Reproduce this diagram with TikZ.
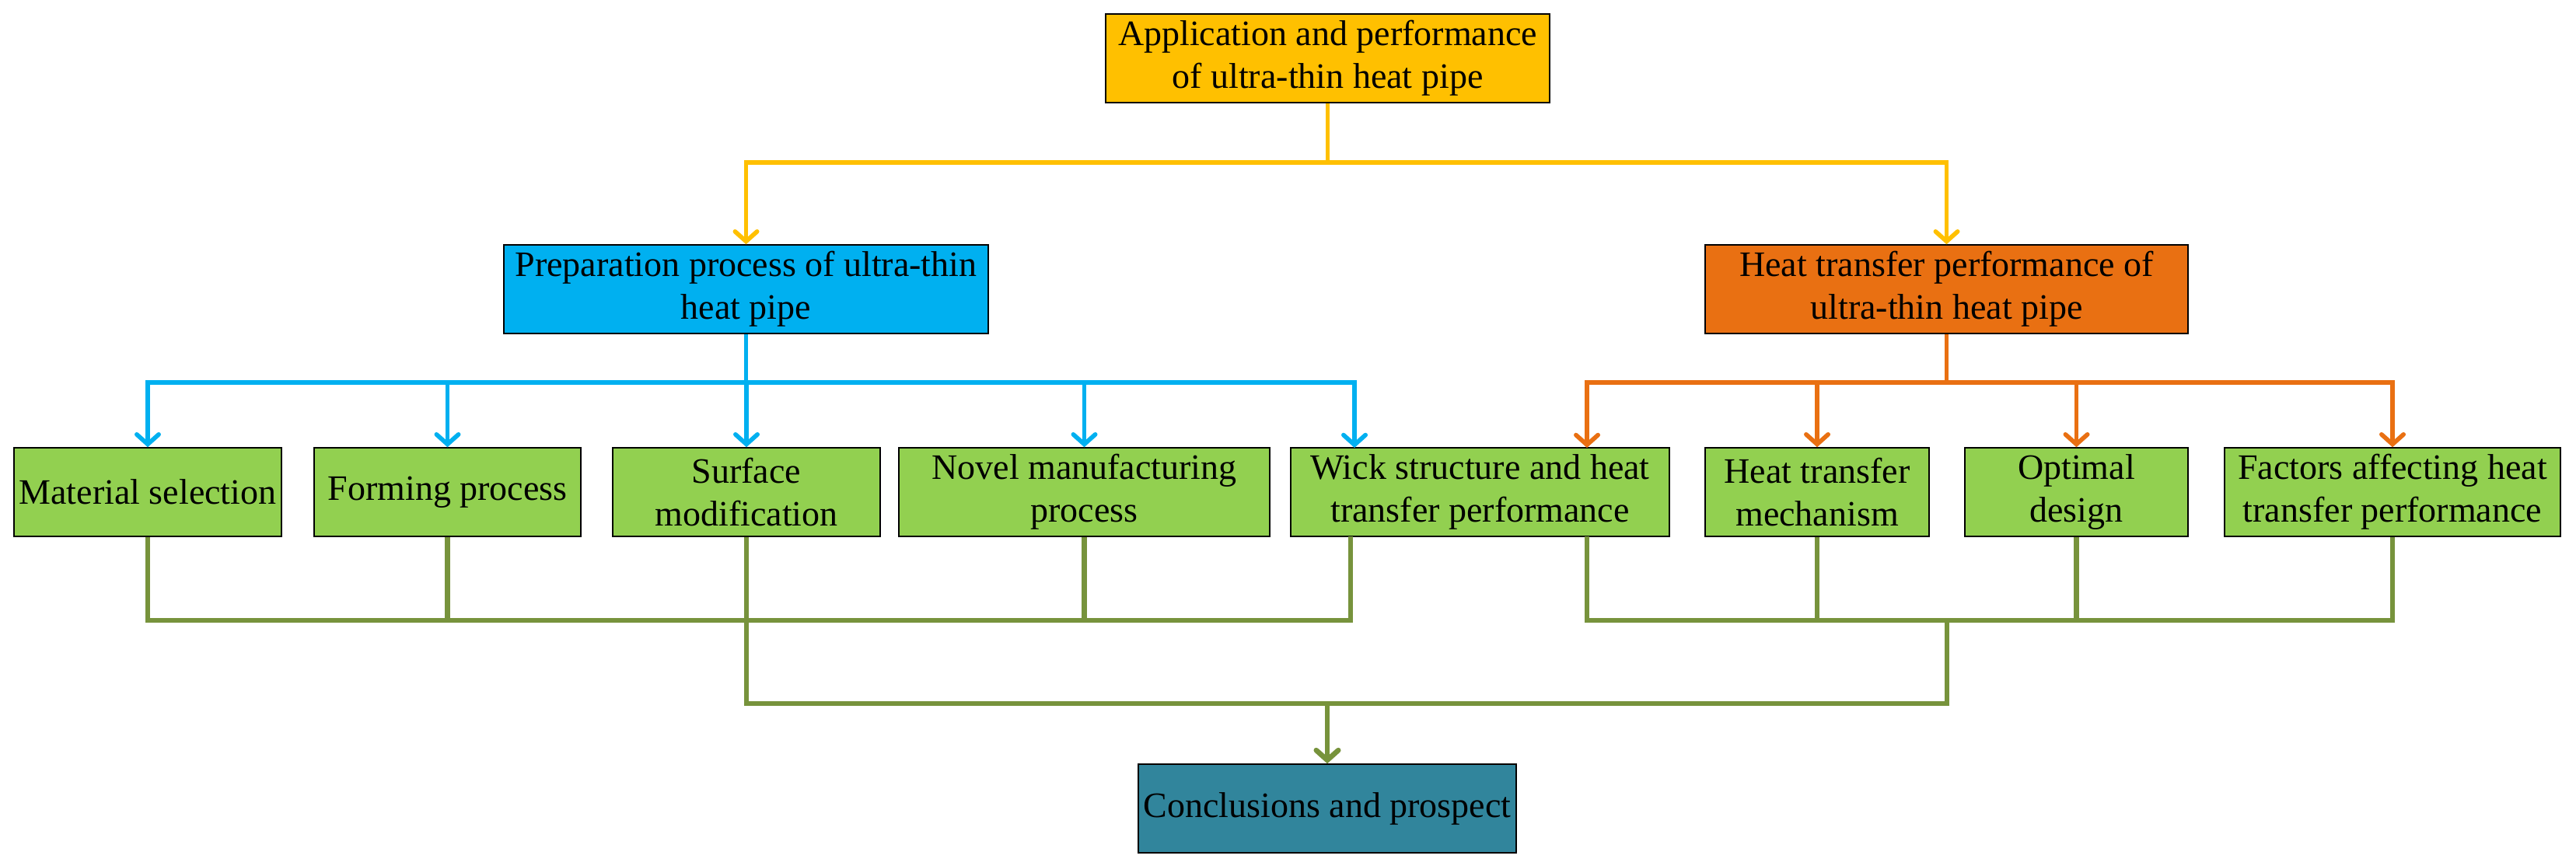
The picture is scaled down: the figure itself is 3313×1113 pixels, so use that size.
\documentclass[tikz,border=0pt]{standalone}
\usepackage{fontspec}
\setmainfont{Liberation Serif}
\usetikzlibrary{arrows.meta}
\definecolor{cyel}{HTML}{FFC000}
\definecolor{cblu}{HTML}{00B0F0}
\definecolor{corg}{HTML}{E97012}
\definecolor{cgrn}{HTML}{92D050}
\definecolor{colv}{HTML}{77933C}
\definecolor{cteal}{HTML}{31859C}
\begin{document}
\begin{tikzpicture}[x=0.3pt,y=-0.3pt,
  box/.style={draw=black,line width=0.45pt,inner sep=0pt,align=center,
    font=\fontsize{13.8pt}{16.5pt}\selectfont},
  sz/.style 2 args={minimum width=#1*0.3pt,minimum height=#2*0.3pt},
  ln/.style={line width=1.7pt},
  bus/.style={line width=1.7pt,line cap=rect},
  gln/.style={line width=2pt},
  gbus/.style={line width=2pt,line cap=rect},
  arr/.style={-{Straight Barb[length=3.8pt,width=8.5pt,line cap=round]}}
]
\useasboundingbox (0,0) rectangle (3313,1113);

% nodes
\node[box,fill=cyel,sz={571}{114}] (top) at (1707.5,75) {Application and performance\\of ultra-thin heat pipe};
\node[box,fill=cblu,sz={623}{114}] (prep) at (959.5,372) {Preparation process of ultra-thin\\heat pipe};
\node[box,fill=corg,sz={621}{114}] (heat) at (2503.5,372) {Heat transfer performance of\\ultra-thin heat pipe};

\node[box,fill=cgrn,sz={344}{114}] (g1) at (190,633) {Material selection};
\node[box,fill=cgrn,sz={343}{114}] (g2) at (575.5,633) {Forming process};
\node[box,fill=cgrn,sz={344}{114}] (g3) at (960,633) {Surface\\modification};
\node[box,fill=cgrn,sz={477}{114}] (g4) at (1394.5,633) {Novel manufacturing\\process};
\node[box,fill=cgrn,sz={487}{114}] (g5) at (1903.5,633) {Wick structure and heat\\transfer performance};
\node[box,fill=cgrn,sz={288}{114}] (g6) at (2337,633) {Heat transfer\\mechanism};
\node[box,fill=cgrn,sz={287}{114}] (g7) at (2670.5,633) {Optimal\\design};
\node[box,fill=cgrn,sz={432}{114}] (g8) at (3077,633) {Factors affecting heat\\transfer performance};

\node[box,fill=cteal,sz={486}{114}] (concl) at (1707,1040) {Conclusions and prospect};

% helper coordinates
\coordinate (ybus) at (1707.5,209);
\coordinate (bbus) at (959.5,492);
\coordinate (obus) at (2503.5,492);
\coordinate (g5in) at (1742,576);
\coordinate (g5inr) at (2041,576);
\coordinate (g5out) at (1737,690);
\coordinate (g5outr) at (2041,690);
\coordinate (gbusL) at (960,798);
\coordinate (gbusR) at (2504,798);
\coordinate (gbus) at (1707,905);

% yellow
\draw[cyel,ln] (top.south) -- (ybus);
\draw[cyel,bus] (prep.north |- ybus) -- (heat.north |- ybus);
\draw[cyel,ln,arr] (prep.north |- ybus) -- (prep.north);
\draw[cyel,ln,arr] (heat.north |- ybus) -- (heat.north);

% blue
\draw[cblu,ln] (prep.south) -- (bbus);
\draw[cblu,bus] (g1.north |- bbus) -- (g5in |- bbus);
\foreach \n in {g1,g2,g3,g4}
  \draw[cblu,ln,arr] (\n.north |- bbus) -- (\n.north);
\draw[cblu,ln,arr] (g5in |- bbus) -- (g5in);

% orange
\draw[corg,ln] (heat.south) -- (obus);
\draw[corg,bus] (g5inr |- obus) -- (g8.north |- obus);
\draw[corg,ln,arr] (g5inr |- obus) -- (g5inr);
\foreach \n in {g6,g7,g8}
  \draw[corg,ln,arr] (\n.north |- obus) -- (\n.north);

% olive green
\foreach \n in {g1,g2,g3,g4}
  \draw[colv,gln] (\n.south) -- (\n.south |- gbusL);
\draw[colv,gln] (g5out) -- (g5out |- gbusL);
\draw[colv,gln] (g5outr) -- (g5outr |- gbusL);
\foreach \n in {g6,g7,g8}
  \draw[colv,gln] (\n.south) -- (\n.south |- gbusL);
\draw[colv,gbus] (g1.south |- gbusL) -- (g5out |- gbusL);
\draw[colv,gbus] (g5outr |- gbusL) -- (g8.south |- gbusL);
\draw[colv,gln] (gbusL) -- (gbusL |- gbus);
\draw[colv,gln] (gbusR) -- (gbusR |- gbus);
\draw[colv,gbus] (gbusL |- gbus) -- (gbusR |- gbus);
\draw[colv,gln,arr] (gbus) -- (concl.north);
\end{tikzpicture}
\end{document}
